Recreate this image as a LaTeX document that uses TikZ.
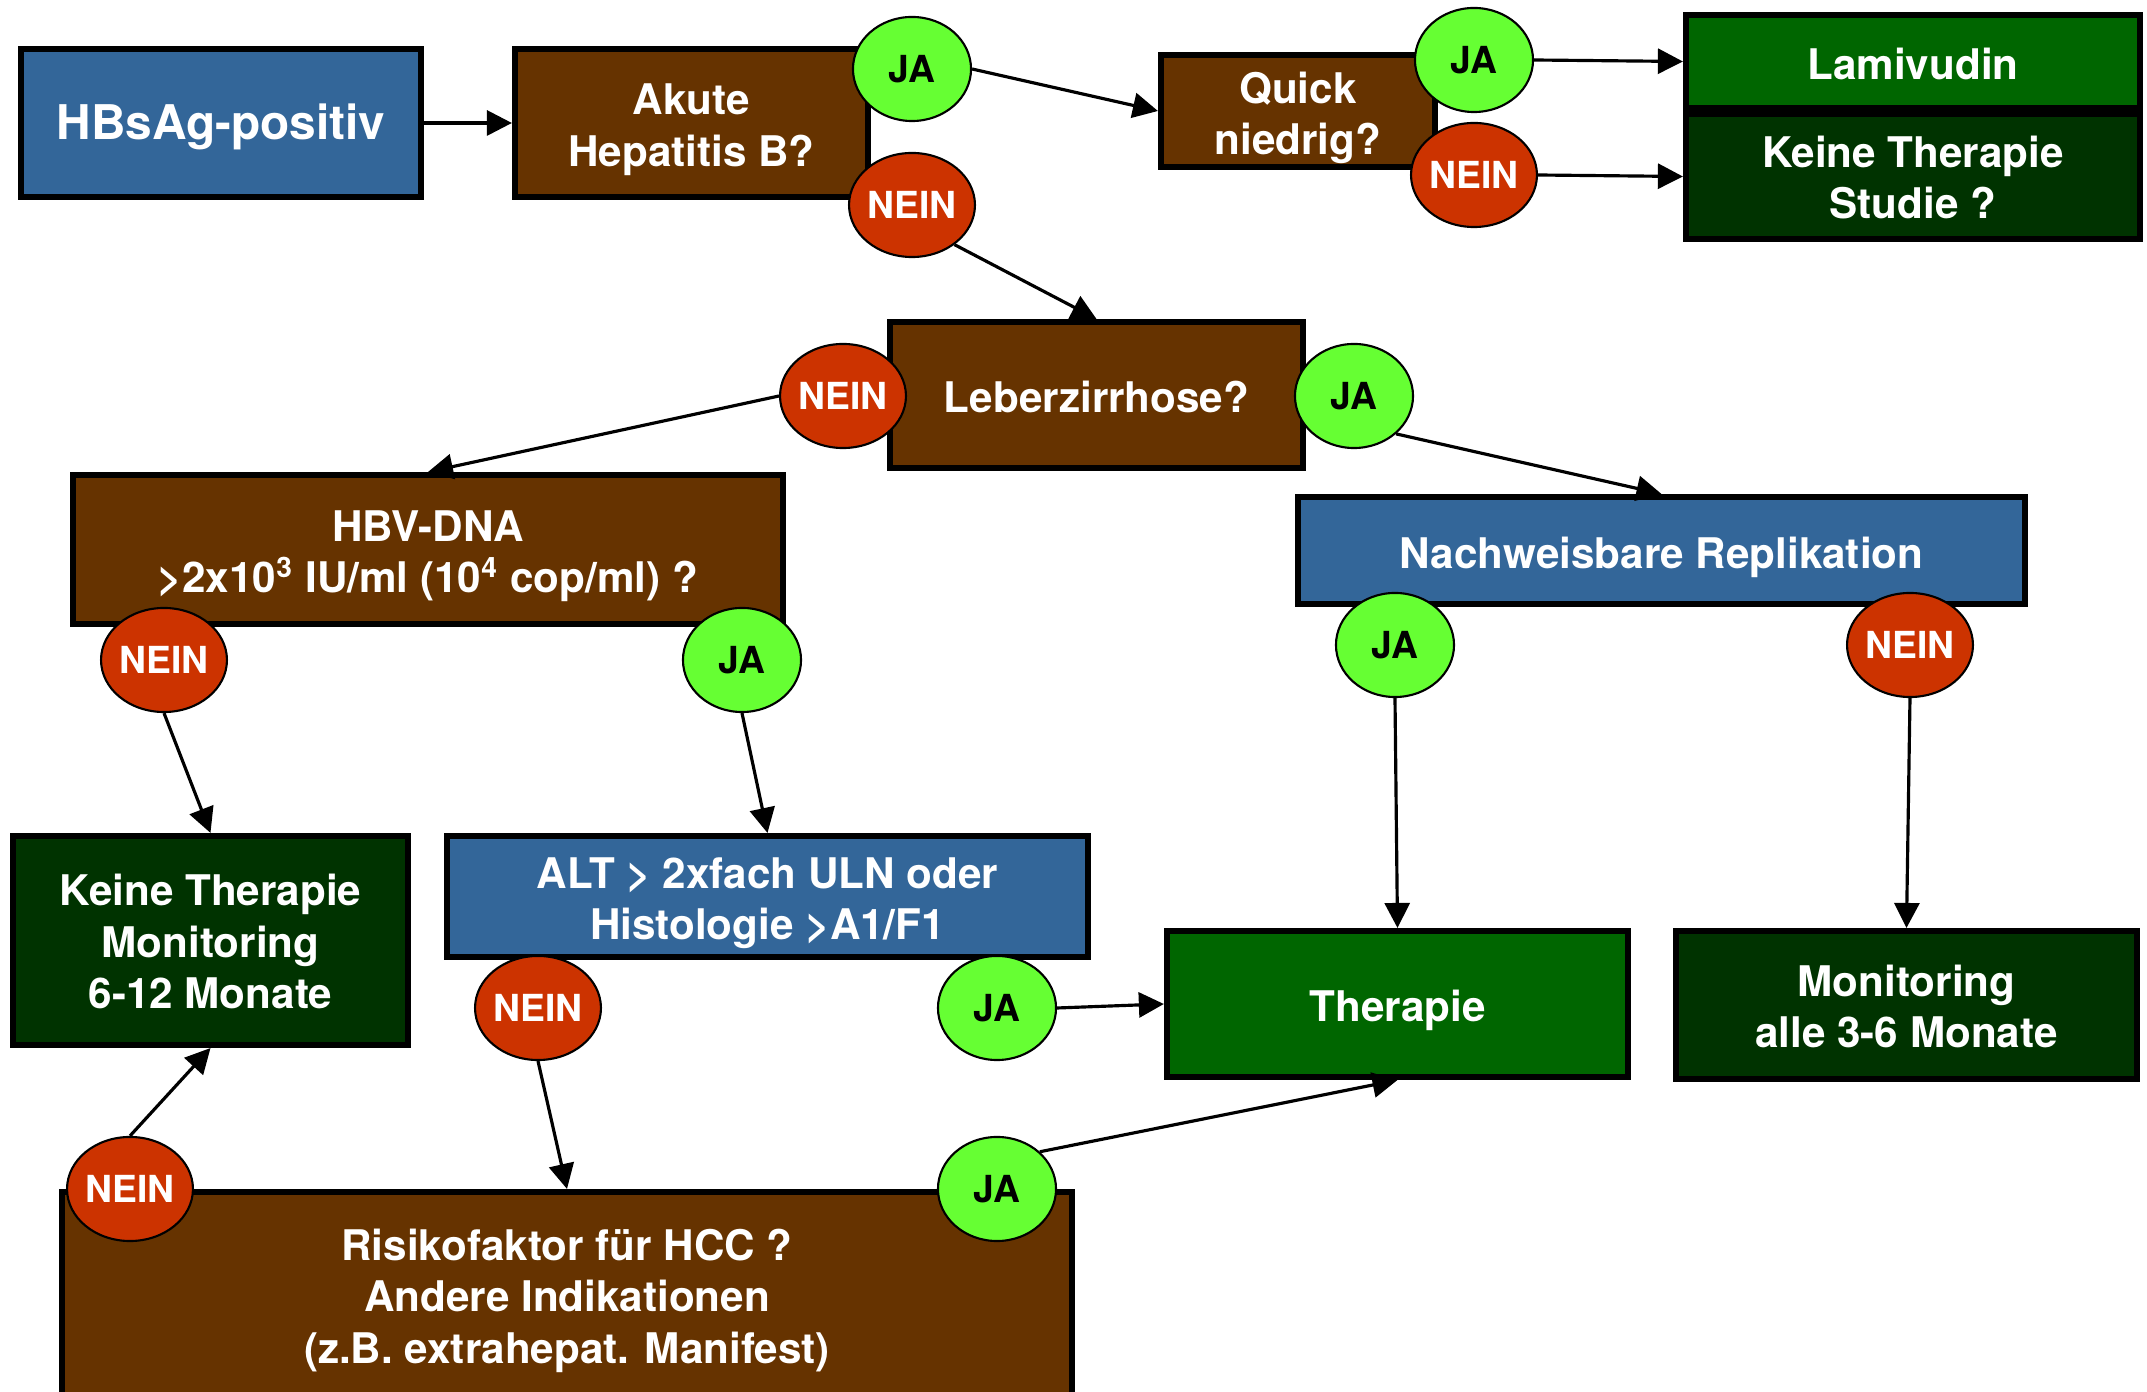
\documentclass[tikz,border=0pt]{standalone}
\usepackage{fontspec}
\setmainfont{TeX Gyre Heros}
\usetikzlibrary{shapes.geometric,arrows.meta}
\definecolor{cblue}{HTML}{336699}
\definecolor{cbrown}{HTML}{663300}
\definecolor{cgreen}{HTML}{006600}
\definecolor{cdgreen}{HTML}{003300}
\definecolor{cja}{HTML}{66FF33}
\definecolor{cnein}{HTML}{CC3300}
\begin{document}
\begin{tikzpicture}[x=0.01cm,y=-0.01cm,
  box/.style={draw=black,line width=1.7pt,text=white,font=\bfseries\fontsize{12}{14.6}\selectfont,align=center,inner sep=0pt,
    execute at begin node={\rule{0pt}{13pt}},execute at end node={\rule[-3pt]{0pt}{3pt}}},
  lt/.style={text=white,font=\bfseries\fontsize{12}{14.6}\selectfont,align=center,inner sep=0pt,yshift=-0.068cm},
  ltflat/.style={lt,yshift=0.055cm},
  jabub/.style={ellipse,draw=black,line width=0.6pt,fill=cja,minimum width=1.18cm,minimum height=1.04cm,inner sep=0pt,font=\bfseries\fontsize{10.6}{12}\selectfont,text=black},
  neinbub/.style={jabub,fill=cnein,text=white},
  arr/.style={line width=0.9pt,-{Triangle[length=0.25cm,width=0.25cm]}}]
\clip (0,0) rectangle (2147,1392);
\fill[white] (0,0) rectangle (2147,1392);
% boxes
\node[box,fill=cblue,minimum width=4.00cm,minimum height=1.47cm,font=\bfseries\fontsize{13.6}{16}\selectfont,
  execute at end node={\rule[-3.4pt]{0pt}{3.4pt}}] (hbs) at (221,123) {HBsAg-positiv};
\node[box,fill=cbrown,minimum width=3.53cm,minimum height=1.48cm,label={[lt]center:{Akute\\Hepatitis B?}}] (akute) at (691.5,123) {};
\node[box,fill=cbrown,minimum width=2.74cm,minimum height=1.12cm,label={[lt]center:{Quick\\niedrig?}}] (quick) at (1298,111) {};
\node[box,fill=cgreen,minimum width=4.54cm,minimum height=0.93cm] (lami) at (1913,61.5) {Lamivudin};
\node[box,fill=cdgreen,minimum width=4.54cm,minimum height=1.25cm,label={[ltflat]center:{Keine Therapie\\Studie ?}}] (keine1) at (1913,176.5) {};
\node[box,fill=cbrown,minimum width=4.13cm,minimum height=1.46cm] (leber) at (1096.5,395) {Leberzirrhose?};
\node[box,fill=cbrown,minimum width=7.10cm,minimum height=1.49cm,label={[lt]center:{HBV-DNA\\>2x10\textsuperscript{3} IU/ml (10\textsuperscript{4} cop/ml) ?}}] (hbv) at (428,549.5) {};
\node[box,fill=cblue,minimum width=7.27cm,minimum height=1.07cm] (nach) at (1661.5,550.5) {Nachweisbare Replikation};
\node[box,fill=cdgreen,minimum width=3.95cm,minimum height=2.09cm,label={[ltflat]center:{Keine Therapie\\Monitoring\\6-12 Monate}}] (keine2) at (210.5,940.5) {};
\node[box,fill=cblue,minimum width=6.41cm,minimum height=1.21cm,label={[lt]center:{ALT > 2xfach ULN oder\\Histologie >A1/F1}}] (alt) at (767.5,896.5) {};
\node[box,fill=cgreen,minimum width=4.61cm,minimum height=1.46cm] (ther) at (1397.5,1004) {Therapie};
\node[box,fill=cdgreen,minimum width=4.61cm,minimum height=1.48cm,label={[ltflat]center:{Monitoring\\alle 3-6 Monate}}] (mon) at (1906.5,1005) {};
\node[box,fill=cbrown,minimum width=10.10cm,minimum height=2.08cm,label={[lt,yshift=0.02cm]center:{Risikofaktor für HCC ?\\Andere Indikationen\\(z.B. extrahepat. Manifest)}}] (risk) at (567,1296) {};
% bubbles
\node[jabub] (ja1) at (912,69) {JA};
\node[neinbub] (nein1) at (912,205) {NEIN};
\node[jabub] (ja2) at (1474,60) {JA};
\node[neinbub] (nein2) at (1474,175) {NEIN};
\node[neinbub] (nein3) at (843,396) {NEIN};
\node[jabub] (ja3) at (1354,396) {JA};
\node[neinbub] (nein4) at (164,660) {NEIN};
\node[jabub] (ja4) at (742,660) {JA};
\node[jabub] (ja5) at (1395,645) {JA};
\node[neinbub] (nein5) at (1910,645) {NEIN};
\node[neinbub] (nein6) at (538,1008) {NEIN};
\node[jabub] (ja6) at (997,1008) {JA};
\node[neinbub] (nein7) at (130,1189) {NEIN};
\node[jabub] (ja7) at (997,1189) {JA};
% arrows
\draw[arr] (hbs) -- (akute);
\draw[arr] (ja1.east) -- (quick.west);
\draw[arr] (nein1.-43) -- (leber.north);
\draw[arr] (ja2.east) -- (lami.west);
\draw[arr] (nein2.east) -- (keine1.west);
\draw[arr] (nein3.west) -- (hbv.north);
\draw[arr] (ja3.-42) -- (nach.north);
\draw[arr] (nein4.south) -- (keine2.north);
\draw[arr] (ja4.south) -- (alt.north);
\draw[arr] (ja5.south) -- (ther.north);
\draw[arr] (nein5.south) -- (mon.north);
\draw[arr] (ja6.east) -- (ther.west);
\draw[arr] (nein6.south) -- (risk.north);
\draw[arr] (nein7.north) -- (keine2.south);
\draw[arr] (ja7.41) -- (ther.south);
\end{tikzpicture}
\end{document}
